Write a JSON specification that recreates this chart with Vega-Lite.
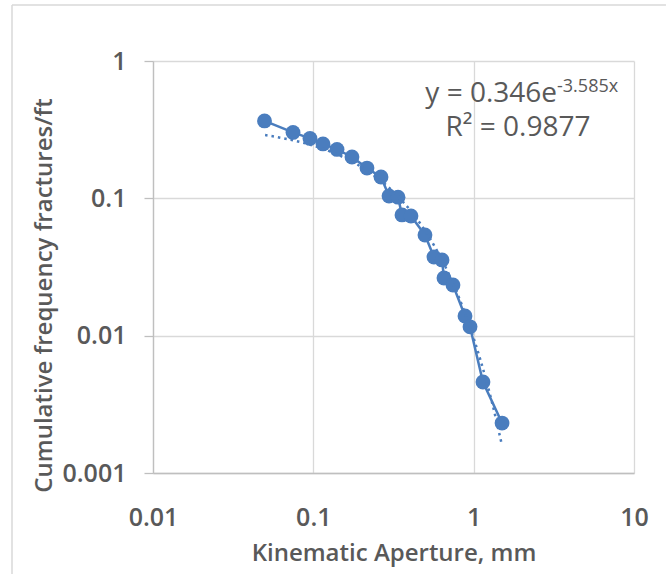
{
  "$schema": "https://vega.github.io/schema/vega-lite/v6.json",
  "width": 481,
  "height": 412,
  "autosize": "none",
  "padding": {"left": 153, "top": 61, "right": 32, "bottom": 101},
  "background": "white",
  "config": {"view": {"stroke": null}, "font": "Open Sans"},
  "datasets": {
    "obs": [
      {"aperture": 0.0496, "frac": 0.366},
      {"aperture": 0.0747, "frac": 0.302},
      {"aperture": 0.0953, "frac": 0.273},
      {"aperture": 0.1149, "frac": 0.249},
      {"aperture": 0.1405, "frac": 0.227},
      {"aperture": 0.1742, "frac": 0.200},
      {"aperture": 0.2161, "frac": 0.166},
      {"aperture": 0.2643, "frac": 0.143},
      {"aperture": 0.2965, "frac": 0.104},
      {"aperture": 0.3374, "frac": 0.102},
      {"aperture": 0.3573, "frac": 0.0757},
      {"aperture": 0.4064, "frac": 0.0744},
      {"aperture": 0.4969, "frac": 0.0541},
      {"aperture": 0.5654, "frac": 0.0374},
      {"aperture": 0.6347, "frac": 0.0356},
      {"aperture": 0.653, "frac": 0.0263},
      {"aperture": 0.743, "frac": 0.0234},
      {"aperture": 0.883, "frac": 0.0139},
      {"aperture": 0.949, "frac": 0.0116},
      {"aperture": 1.143, "frac": 0.0046},
      {"aperture": 1.503, "frac": 0.00231}
    ],
    "trend": [
      {"aperture": 0.05, "frac": 0.289},
      {"aperture": 0.07, "frac": 0.269},
      {"aperture": 0.1, "frac": 0.242},
      {"aperture": 0.15, "frac": 0.202},
      {"aperture": 0.2, "frac": 0.169},
      {"aperture": 0.3, "frac": 0.118},
      {"aperture": 0.4, "frac": 0.0825},
      {"aperture": 0.5, "frac": 0.0576},
      {"aperture": 0.7, "frac": 0.0281},
      {"aperture": 0.9, "frac": 0.0137},
      {"aperture": 1.1, "frac": 0.0067},
      {"aperture": 1.3, "frac": 0.00328},
      {"aperture": 1.5, "frac": 0.0016}
    ]
  },
  "data": {"name": "obs"},
  "layer": [
    {
      "mark": {"type": "line", "color": "#4A7DBE", "strokeWidth": 2.5},
      "encoding": {
        "x": {
          "field": "aperture",
          "type": "quantitative",
          "scale": {"type": "log", "domain": [0.01, 10], "nice": false},
          "axis": {
            "values": [0.01, 0.1, 1, 10],
            "labelExpr": "format(datum.value, '~g')",
            "title": "Kinematic Aperture, mm",
            "grid": true,
            "gridColor": "#d9d9d9",
            "gridWidth": 1.3,
            "domainColor": "#bfbfbf",
            "domainWidth": 1.3,
            "ticks": false,
            "labelFont": "Open Sans",
            "labelFontSize": 25,
            "labelFontWeight": 600,
            "labelColor": "#595959",
            "labelPadding": 32,
            "labelFlush": false,
            "labelOverlap": false,
            "titleFont": "Open Sans",
            "titleFontSize": 24,
            "titleFontWeight": 600,
            "titleColor": "#595959",
            "titlePadding": 11
          }
        },
        "y": {
          "field": "frac",
          "type": "quantitative",
          "scale": {"type": "log", "domain": [0.001, 1], "nice": false},
          "axis": {
            "values": [0.001, 0.01, 0.1, 1],
            "labelExpr": "format(datum.value, '~g')",
            "title": "Cumulative frequency fractures/ft",
            "grid": true,
            "gridColor": "#d9d9d9",
            "gridWidth": 1.3,
            "domainColor": "#bfbfbf",
            "domainWidth": 1.3,
            "ticks": true,
            "tickSize": 9,
            "tickColor": "#bfbfbf",
            "tickWidth": 1.3,
            "labelFont": "Open Sans",
            "labelFontSize": 25,
            "labelFontWeight": 600,
            "labelColor": "#595959",
            "labelPadding": 18,
            "labelOverlap": false,
            "labelFlush": false,
            "titleFont": "Open Sans",
            "titleFontSize": 24,
            "titleFontWeight": 600,
            "titleColor": "#595959",
            "titlePadding": 5,
            "titleY": 234
          }
        }
      }
    },
    {
      "mark": {"type": "circle", "color": "#4A7DBE", "size": 220, "opacity": 1},
      "encoding": {
        "x": {"field": "aperture", "type": "quantitative"},
        "y": {"field": "frac", "type": "quantitative"}
      }
    },
    {
      "data": {"name": "trend"},
      "mark": {"type": "line", "color": "#4A7DBE", "strokeWidth": 2.5, "strokeDash": [2.5, 4], "interpolate": "monotone"},
      "encoding": {
        "x": {"field": "aperture", "type": "quantitative"},
        "y": {"field": "frac", "type": "quantitative"}
      }
    },
    {
      "data": {"values": [{"label": "y = 0.346e"}]},
      "mark": {"type": "text", "align": "right", "baseline": "alphabetic", "font": "Open Sans", "fontSize": 28, "color": "#595959"},
      "encoding": {
        "x": {"datum": 3.311, "type": "quantitative"},
        "y": {"datum": 0.5029, "type": "quantitative"},
        "text": {"field": "label"}
      }
    },
    {
      "data": {"values": [{"label": "-3.585x"}]},
      "mark": {"type": "text", "align": "left", "baseline": "alphabetic", "font": "Open Sans", "fontSize": 18, "color": "#595959"},
      "encoding": {
        "x": {"datum": 3.311, "type": "quantitative"},
        "y": {"datum": 0.5947, "type": "quantitative"},
        "text": {"field": "label"}
      }
    },
    {
      "data": {"values": [{"label": "R² = 0.9877"}]},
      "mark": {"type": "text", "align": "center", "baseline": "alphabetic", "font": "Open Sans", "fontSize": 28, "color": "#595959"},
      "encoding": {
        "x": {"datum": 1.89, "type": "quantitative"},
        "y": {"datum": 0.2843, "type": "quantitative"},
        "text": {"field": "label"}
      }
    },
    {
      "data": {"values": [{"edge": "left"}]},
      "mark": {"type": "rule", "color": "#d9d9d9", "strokeWidth": 1.5},
      "encoding": {
        "x": {"datum": 0.00132, "type": "quantitative"},
        "y": {"datum": 2.557, "type": "quantitative"},
        "y2": {"datum": 0.000184}
      }
    },
    {
      "data": {"values": [{"edge": "top"}]},
      "mark": {"type": "rule", "color": "#d9d9d9", "strokeWidth": 1.5},
      "encoding": {
        "x": {"datum": 0.00132, "type": "quantitative"},
        "x2": {"datum": 15.83},
        "y": {"datum": 2.557, "type": "quantitative"}
      }
    }
  ]
}
